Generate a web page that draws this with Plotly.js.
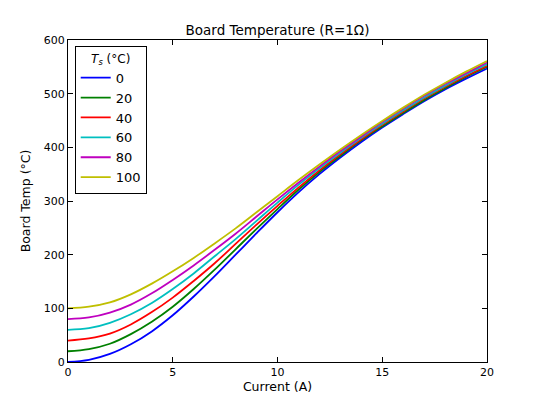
<!DOCTYPE html>
<html>
<head>
<meta charset="utf-8">
<script src="https://cdn.plot.ly/plotly-3.0.1.min.js"></script>
<style>html,body{margin:0;padding:0;background:#fff;}#chart{width:540px;height:403px;}</style>
</head>
<body>
<div id="chart"></div>
<script>
const current = [0,1,2,3,4,5,6,7,8,9,10,11,12,13,14,15,16,17,18,19,20];
const seriesNames = ['0','20','40','60','80','100'];
const t0   = [0,4,15,33,57,87,122,160,200,240,279,316,350,381,410,437,462,486,508,528,547];
const t20  = [20,24,34,52,75,103,136,172,210,248,285,321,354,384,413,439,464,488,510,531,550];
const t40  = [40,44,53,70,93,120,151,184,220,256,291,325,357,387,415,442,467,491,513,533,552];
const t60  = [60,63,73,89,110,136,165,197,229,263,297,330,361,390,418,444,469,493,515,536,555];
const t80  = [80,83,92,107,128,153,180,209,239,271,303,334,364,393,420,447,472,496,518,538,558];
const t100 = [100,103,111,126,146,169,194,221,249,279,309,339,368,396,423,449,474,498,520,541,561];
const seriesValues = [t0,t20,t40,t60,t80,t100];
const colors = ['#0000ff','#008000','#ff0000','#00bfbf','#bf00bf','#bfbf00'];

const traces = seriesValues.map((v,i)=>({
  x: current, y: v, name: seriesNames[i], type:'scatter', mode:'lines',
  line:{color:colors[i], width:1.8, shape:'spline', smoothing:1}
}));

const font = {family:'DejaVu Sans, sans-serif', color:'#000'};
const axisCommon = {
  showgrid:false, zeroline:false, showline:true, linecolor:'#000', linewidth:1,
  mirror:'ticks', ticks:'inside', ticklen:5, tickcolor:'#000', tickwidth:1,
  tickfont:{family:font.family, size:11, color:'#000'}
};
const layout = {
  width:540, height:403,
  margin:{l:68, r:53, t:40, b:41, pad:0},
  paper_bgcolor:'#fff', plot_bgcolor:'#fff',
  font: font,
  title:{text:'Board Temperature (R=1Ω)', font:{family:font.family, size:13.5, color:'#000'},
         x:0.5, xref:'paper', y:1-30/403, yref:'container', yanchor:'middle'},
  xaxis: Object.assign({}, axisCommon, {range:[0,20], dtick:5, tick0:0,
    title:{text:'Current (A)', font:{family:font.family, size:12.5, color:'#000'}, standoff:4}}),
  yaxis: Object.assign({}, axisCommon, {range:[0,600], dtick:100, tick0:0,
    title:{text:'Board Temp (°C)', font:{family:font.family, size:12.5, color:'#000'}, standoff:10}}),
  showlegend:true,
  legend:{x:0.016, y:0.981, xanchor:'left', yanchor:'top', bgcolor:'#fff',
    bordercolor:'#000', borderwidth:1, font:{family:font.family, size:13, color:'#000'},
    title:{text:'<i>T</i><sub><i>s</i></sub> (°C)', side:'top center', font:{family:font.family, size:12, color:'#000'}},
    tracegroupgap:0, itemwidth:30}
};
Plotly.newPlot('chart', traces, layout, {displayModeBar:false, staticPlot:true});
</script>
</body>
</html>
